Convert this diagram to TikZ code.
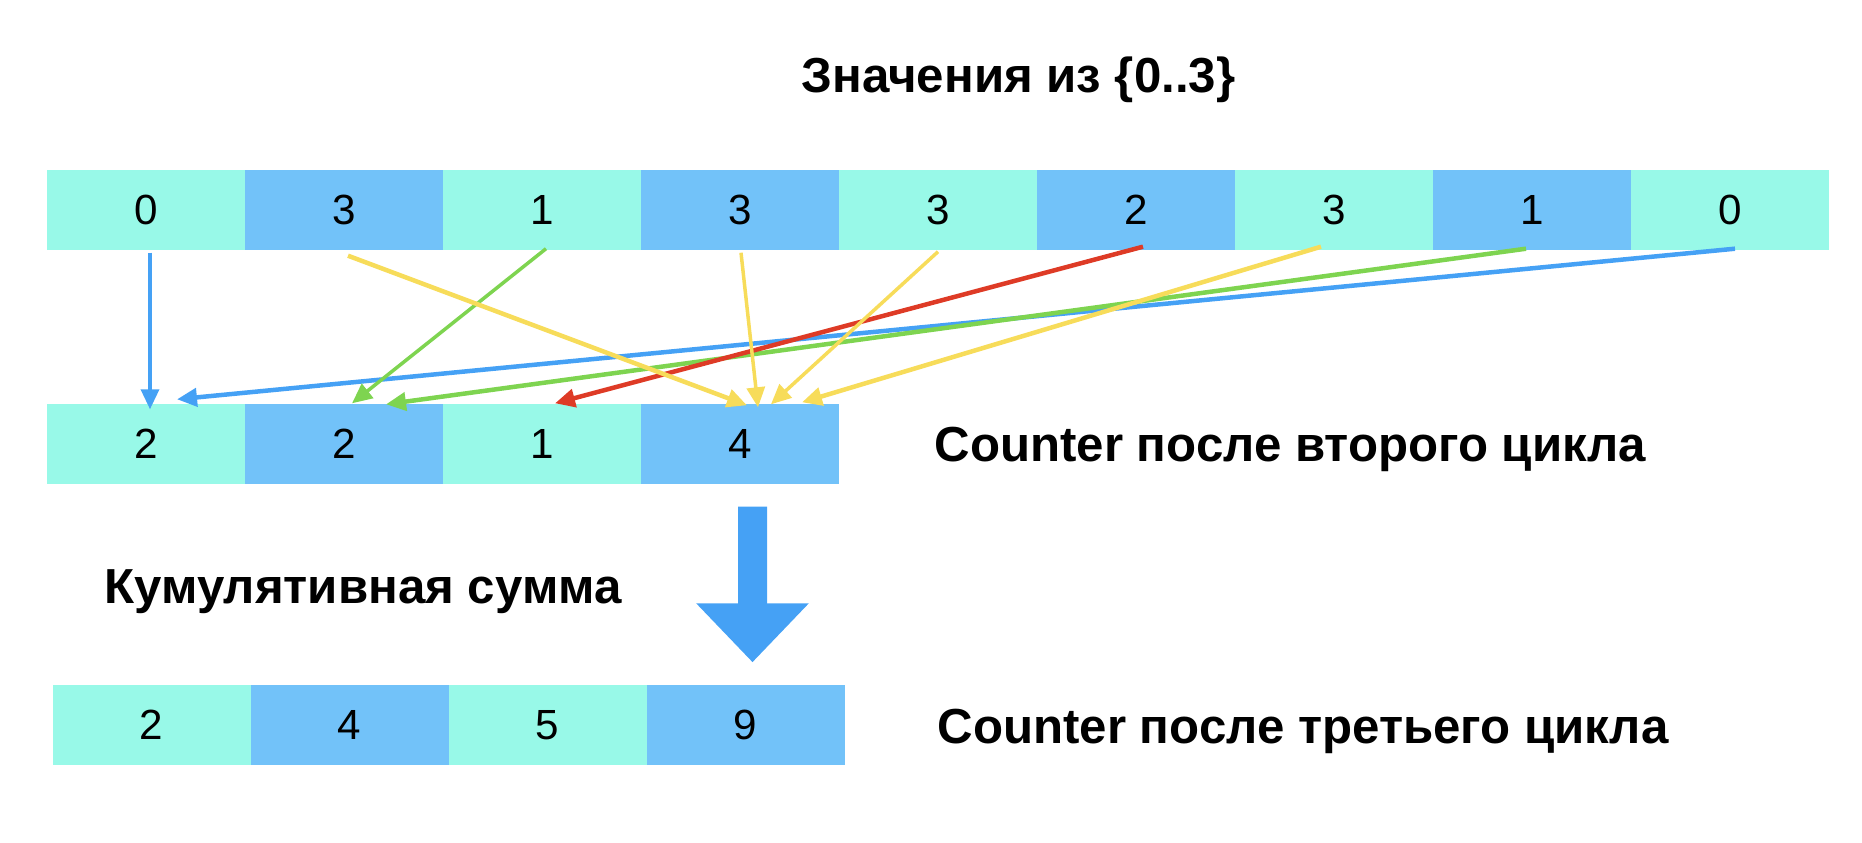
\documentclass[tikz,border=0pt]{standalone}
\usepackage{fontspec}
\setmainfont{Liberation Sans}
\usetikzlibrary{arrows.meta}

\definecolor{r152g249b232}{rgb}{0.596078,0.976471,0.909804}
\definecolor{r114g194b249}{rgb}{0.447059,0.760784,0.976471}
\definecolor{r69g161b245}{rgb}{0.270588,0.631373,0.960784}
\definecolor{r126g212b80}{rgb}{0.494118,0.831373,0.313725}
\definecolor{r222g59b38}{rgb}{0.870588,0.231373,0.149020}
\definecolor{r247g220b90}{rgb}{0.968627,0.862745,0.352941}

\tikzset{
  cell/.style={minimum width=1.98cm, minimum height=0.8cm, inner sep=0pt,
    font=\fontsize{12}{14}\selectfont},
  cella/.style={cell, fill=r152g249b232},
  cellb/.style={cell, fill=r114g194b249},
  link/.style={line width=0.045cm, -{Triangle[length=0.2cm,width=0.18cm]}},
  bigarrow/.style={r69g161b245, line width=0.29cm,
    -{Triangle[length=0.59cm,width=1.09cm]}},
  caption/.style={anchor=base west, inner sep=0pt,
    font=\fontsize{14}{16}\selectfont\bfseries},
}

\begin{document}
\begin{tikzpicture}
            \useasboundingbox (0,0) rectangle (18.62,8.42);

            % Marking title
            \node[caption] (title) at (8.01,7.50) {Значения из \{0..3\}};

            % Drawing input row
            \node[cella] (t0) at (1.46,6.32) {0};
            \node[cellb] (t1) at (3.44,6.32) {3};
            \node[cella] (t2) at (5.42,6.32) {1};
            \node[cellb] (t3) at (7.40,6.32) {3};
            \node[cella] (t4) at (9.38,6.32) {3};
            \node[cellb] (t5) at (11.36,6.32) {2};
            \node[cella] (t6) at (13.34,6.32) {3};
            \node[cellb] (t7) at (15.32,6.32) {1};
            \node[cella] (t8) at (17.30,6.32) {0};

            % Drawing counter row
            \node[cella] (m0) at (1.46,3.98) {2};
            \node[cellb] (m1) at (3.44,3.98) {2};
            \node[cella] (m2) at (5.42,3.98) {1};
            \node[cellb] (m3) at (7.40,3.98) {4};
            \node[caption] (cnt2) at (9.34,3.81) {Counter после второго цикла};

            % Drawing arrows for value 0
            \draw[link, r69g161b245, line width=0.035cm] ([xshift=0.04cm,yshift=-0.02cm]t0.south) -- ([xshift=0.04cm,yshift=-0.06cm]m0.north);%
            \draw[link, r69g161b245] ([xshift=0.05cm,yshift=0.02cm]t8.south) -- ([xshift=0.31cm,yshift=0.04cm]m0.north);%

            % Drawing arrows for value 1
            \draw[link, r126g212b80, line width=0.035cm] ([xshift=0.04cm,yshift=0.02cm]t2.south) -- ([xshift=0.08cm]m1.north);%
            \draw[link, r126g212b80] ([xshift=-0.06cm,yshift=0.02cm]t7.south) -- ([xshift=0.42cm,yshift=-0.01cm]m1.north);%

            % Drawing arrow for value 2
            \draw[link, r222g59b38] ([xshift=0.07cm,yshift=0.04cm]t5.south) -- ([xshift=0.13cm]m2.north);%

            % Drawing arrows for value 3
            \draw[link, r247g220b90] ([xshift=0.04cm,yshift=-0.05cm]t1.south) -- ([xshift=0.07cm,yshift=-0.02cm]m3.north);%
            \draw[link, r247g220b90, line width=0.035cm] ([xshift=0.01cm,yshift=-0.02cm]t3.south) -- ([xshift=0.18cm,yshift=-0.04cm]m3.north);%
            \draw[link, r247g220b90, line width=0.035cm] ([yshift=-0.01cm]t4.south) -- ([xshift=0.31cm,yshift=-0.01cm]m3.north);%
            \draw[link, r247g220b90] ([xshift=-0.13cm,yshift=0.04cm]t6.south) -- ([xshift=0.62cm,yshift=0.01cm]m3.north);%

            % Drawing cumulative sum step
            \node[caption] (cumsum) at (1.04,2.39) {Кумулятивная сумма};
            \node[cella] (b0) at (1.515,1.17) {2};
            \node[cellb] (b1) at (3.495,1.17) {4};
            \node[cella] (b2) at (5.475,1.17) {5};
            \node[cellb] (b3) at (7.455,1.17) {9};
            \node[caption] (cnt3) at (9.37,0.99) {Counter после третьего цикла};
            \draw[bigarrow] ([xshift=0.125cm,yshift=-0.22cm]m3.south) -- ([xshift=0.07cm,yshift=0.22cm]b3.north);%
\end{tikzpicture}
\end{document}
